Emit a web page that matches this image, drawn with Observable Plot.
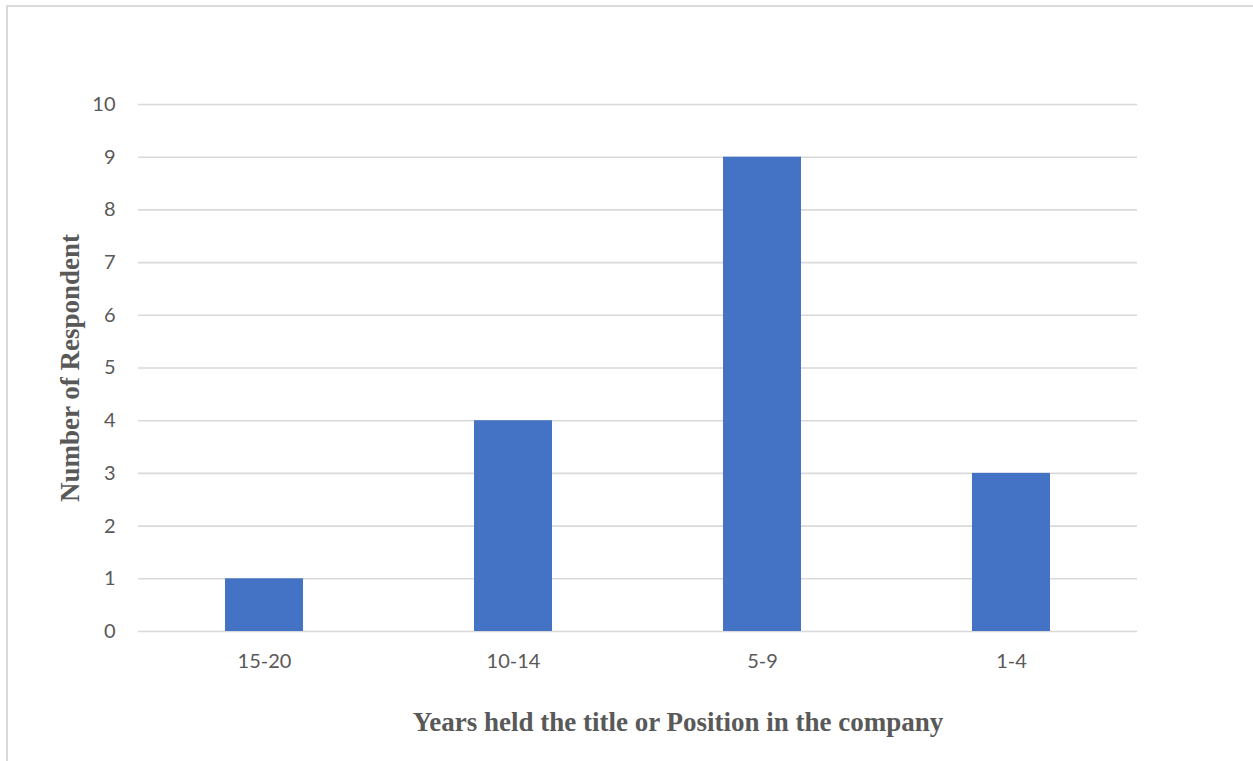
<!DOCTYPE html>
<html>
<head>
<meta charset="utf-8">
<script src="https://cdn.jsdelivr.net/npm/d3@7"></script>
<script src="https://cdn.jsdelivr.net/npm/@observablehq/plot@0.6"></script>
<style>
  html, body { margin: 0; padding: 0; background: #fff; overflow: hidden; }
  #frame { position: absolute; left: 6px; top: 5px; width: 1400px; height: 900px; border: 2px solid #d9d9d9; box-sizing: border-box; }
  #chart { position: absolute; left: 0; top: 0; }
</style>
</head>
<body>
<div id="frame"></div>
<div id="chart"></div>
<script>
const categories = ["15-20", "10-14", "5-9", "1-4"];
const respondents = [1, 4, 9, 3];
const yTicks = [0, 1, 2, 3, 4, 5, 6, 7, 8, 9, 10];
const xTitle = "Years held the title or Position in the company";
const yTitle = "Number of Respondent";

const data = categories.map((c, i) => ({category: c, value: respondents[i]}));

const titleFont = "'Liberation Serif', 'Times New Roman', serif";

const chart = Plot.plot({
  width: 1253,
  height: 761,
  marginLeft: 138,
  marginRight: 116,
  marginTop: 104,
  marginBottom: 130,
  style: {background: "transparent", fontFamily: "Lato, 'Open Sans', sans-serif", fontSize: "20px", color: "#595959"},
  x: {domain: categories, paddingInner: 0.688, paddingOuter: 0.344, label: null},
  y: {domain: [0, 10], label: null},
  marks: [
    Plot.ruleY(yTicks, {stroke: "#d9d9d9", strokeWidth: 1.6}),
    Plot.barY(data, {x: "category", y: "value", fill: "#4472c4"}),
    Plot.axisY(yTicks, {tickSize: 0, tickPadding: 23, tickFormat: "d", fontSize: 20, fill: "#595959", label: null}),
    Plot.axisX({tickSize: 0, tickPadding: 22, fontSize: 20, fill: "#595959", label: null}),
    Plot.text([xTitle], {frameAnchor: "bottom", textAnchor: "middle", dx: 40, dy: 91, text: d => d, fontFamily: titleFont, fontWeight: "bold", fontSize: 27, fill: "#595959", lineAnchor: "middle"}),
    Plot.text([yTitle], {frameAnchor: "left", textAnchor: "middle", dx: -68, dy: 0, rotate: -90, text: d => d, fontFamily: titleFont, fontWeight: "bold", fontSize: 27, fill: "#595959", lineAnchor: "middle"})
  ]
});
document.getElementById("chart").appendChild(chart);
</script>
</body>
</html>
